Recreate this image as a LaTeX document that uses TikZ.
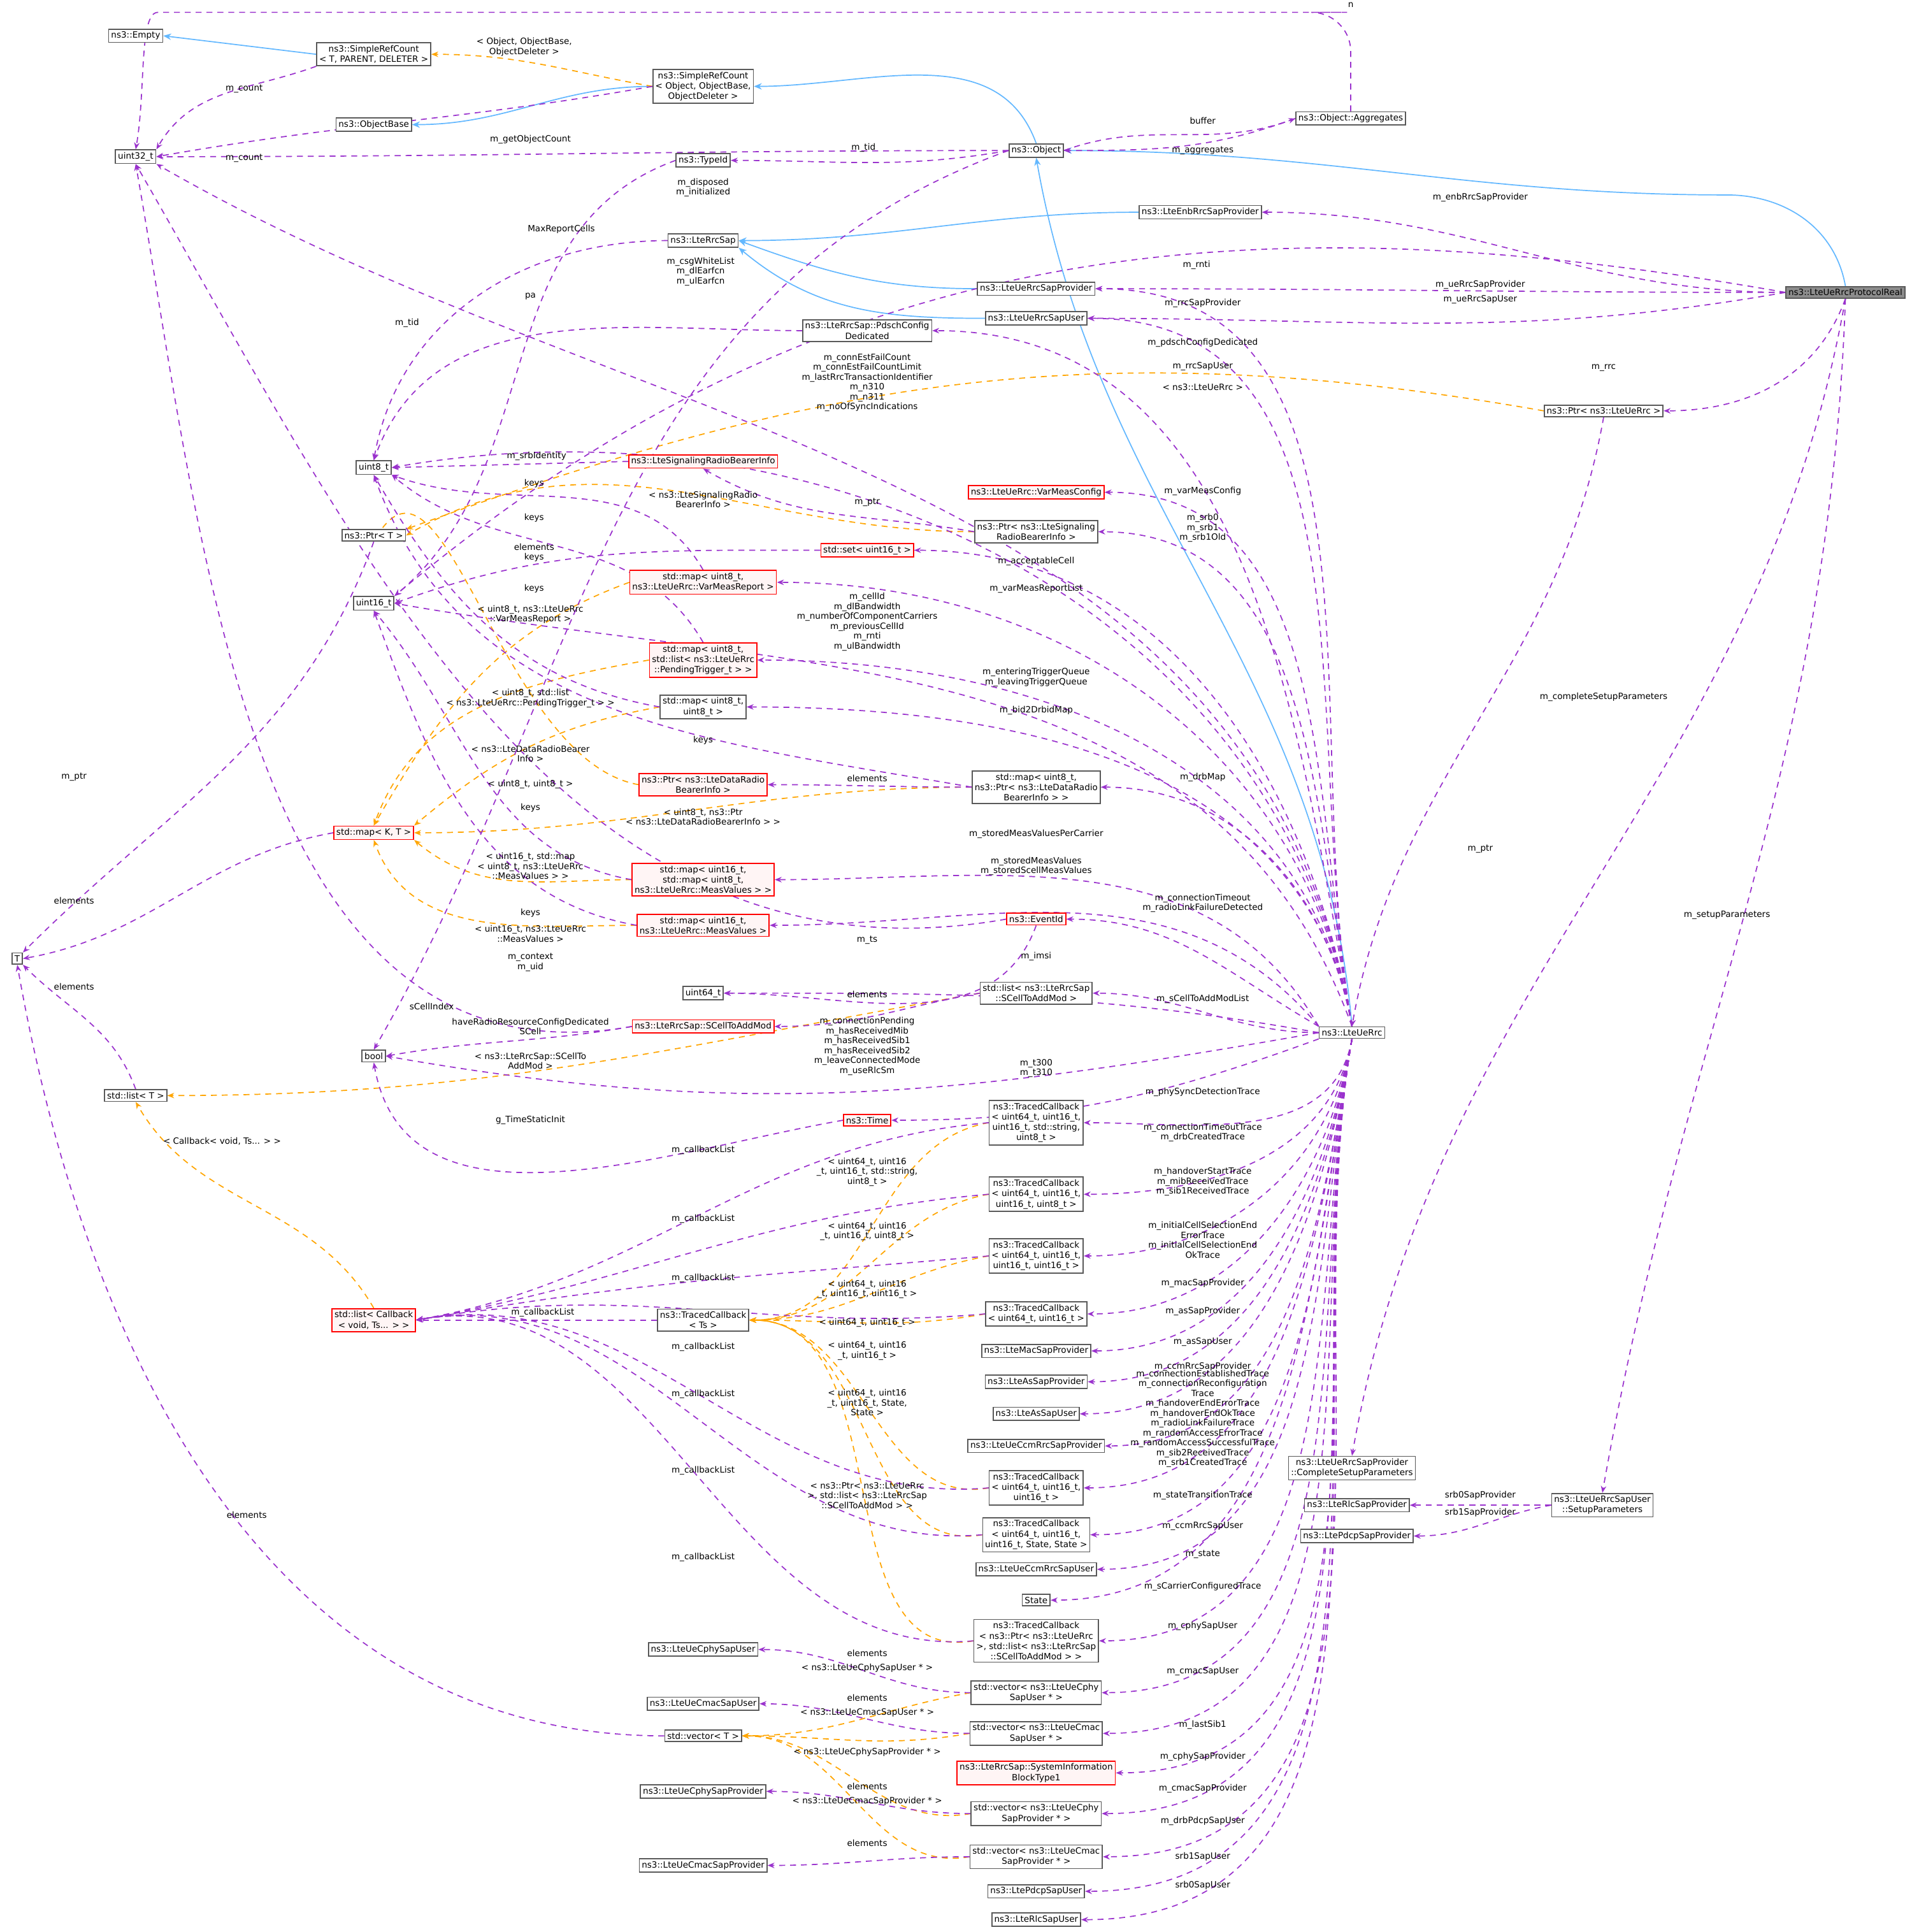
\documentclass[tikz,border=0pt]{standalone}
\usepackage{fontspec}
\setmainfont{DejaVu Sans}
\usetikzlibrary{arrows.meta}
\definecolor{pur}{HTML}{9A32CD}
\definecolor{org}{HTML}{FFA500}
\definecolor{blu}{HTML}{63B8FF}
\pgfdeclarelayer{bg}
\pgfsetlayers{bg,main}
\begin{document}
\begin{tikzpicture}[x=0.25pt,y=-0.25pt,line width=0.22pt,
 box/.style={solid,line width=0.22pt,draw=black!65,fill=white,inner sep=0.5pt,align=center,font=\fontsize{1.75}{2.1}\selectfont},
 rbox/.style={box,draw=red,fill=red!4},
 lab/.style={font=\fontsize{1.75}{2}\selectfont,align=center,inner sep=0},
 pe/.style={line width=0.22pt,draw=pur,dash pattern=on 1.2pt off 1pt,-{Stealth[length=1.4pt,width=1.1pt]}},
 oe/.style={line width=0.22pt,draw=org,dash pattern=on 1.2pt off 1pt,-{Stealth[length=1.4pt,width=1.1pt]}},
 be/.style={line width=0.22pt,draw=blu,solid,-{Stealth[length=1.6pt,width=1.3pt]}},
 up/.style={out=100,in=0},
 dn/.style={out=260,in=0},
]
\useasboundingbox (0,0) rectangle (1550,1566);
% nodes
\node[box] (empty) at (110,29) {ns3::Empty};
\node[box] (srct) at (303,44) {ns3::SimpleRefCount\\< T, PARENT, DELETER >};
\node[box] (u32) at (110,127) {uint32\_t};
\node[box] (objb) at (303,101) {ns3::ObjectBase};
\node[box] (srco) at (570,70) {ns3::SimpleRefCount\\< Object, ObjectBase,\\ObjectDeleter >};
\node[box] (tid) at (570,130) {ns3::TypeId};
\node[box] (obj) at (840,122) {ns3::Object};
\node[box] (agg) at (1095,96) {ns3::Object::Aggregates};
\node[box] (enbp) at (973,172) {ns3::LteEnbRrcSapProvider};
\node[box] (rsap) at (570,195) {ns3::LteRrcSap};
\node[box] (uep) at (840,234) {ns3::LteUeRrcSapProvider};
\node[box] (ueu) at (840,258) {ns3::LteUeRrcSapUser};
\node[box,fill=black!45] (pr) at (1496,237) {ns3::LteUeRrcProtocolReal};
\node[box] (pdsch) at (703,268) {ns3::LteRrcSap::PdschConfig\\Dedicated};
\node[box] (plr) at (1300,333) {ns3::Ptr< ns3::LteUeRrc >};
\node[box] (u8) at (303,379) {uint8\_t};
\node[rbox] (srb) at (570,374) {ns3::LteSignalingRadioBearerInfo};
\node[rbox] (vmc) at (840,399) {ns3::LteUeRrc::VarMeasConfig};
\node[box] (ptrt) at (303,434) {ns3::Ptr< T >};
\node[box] (psrb) at (840,431) {ns3::Ptr< ns3::LteSignaling\\RadioBearerInfo >};
\node[rbox] (set) at (703,446) {std::set< uint16\_t >};
\node[box] (u16) at (303,489) {uint16\_t};
\node[rbox] (mvmr) at (570,472) {std::map< uint8\_t,\\ns3::LteUeRrc::VarMeasReport >};
\node[rbox] (mpt) at (570,535) {std::map< uint8\_t,\\std::list< ns3::LteUeRrc\\::PendingTrigger\_t > >};
\node[box] (m88) at (570,573) {std::map< uint8\_t,\\uint8\_t >};
\node[rbox] (pdrb) at (570,636) {ns3::Ptr< ns3::LteDataRadio\\BearerInfo >};
\node[box] (mdrb) at (840,638) {std::map< uint8\_t,\\ns3::Ptr< ns3::LteDataRadio\\BearerInfo > >};
\node[rbox] (mkt) at (303,675) {std::map< K, T >};
\node[rbox] (m16m) at (570,713) {std::map< uint16\_t,\\std::map< uint8\_t,\\ns3::LteUeRrc::MeasValues > >};
\node[rbox] (m16v) at (570,750) {std::map< uint16\_t,\\ns3::LteUeRrc::MeasValues >};
\node[rbox] (evt) at (840,745) {ns3::EventId};
\node[box] (T) at (14,777) {T};
\node[box] (u64) at (570,805) {uint64\_t};
\node[box] (lsc) at (840,805) {std::list< ns3::LteRrcSap\\::SCellToAddMod >};
\node[rbox] (sc) at (570,832) {ns3::LteRrcSap::SCellToAddMod};
\node[box] (ur) at (1096,837) {ns3::LteUeRrc};
\node[box] (bool) at (303,856) {bool};
\node[box] (listt) at (110,888) {std::list< T >};
\node[rbox] (time) at (703,908) {ns3::Time};
\node[box] (tc1) at (840,910) {ns3::TracedCallback\\< uint64\_t, uint16\_t,\\uint16\_t, std::string,\\uint8\_t >};
\node[box] (tc2) at (840,968) {ns3::TracedCallback\\< uint64\_t, uint16\_t,\\uint16\_t, uint8\_t >};
\node[box] (tc3) at (840,1018) {ns3::TracedCallback\\< uint64\_t, uint16\_t,\\uint16\_t, uint16\_t >};
\node[box] (tc4) at (840,1065) {ns3::TracedCallback\\< uint64\_t, uint16\_t >};
\node[rbox] (lcb) at (303,1070) {std::list< Callback\\< void, Ts... > >};
\node[box] (tcts) at (570,1070) {ns3::TracedCallback\\< Ts >};
\node[box] (macp) at (840,1095) {ns3::LteMacSapProvider};
\node[box] (asp) at (840,1120) {ns3::LteAsSapProvider};
\node[box] (asu) at (840,1146) {ns3::LteAsSapUser};
\node[box] (ccmp) at (840,1172) {ns3::LteUeCcmRrcSapProvider};
\node[box] (tc5) at (840,1206) {ns3::TracedCallback\\< uint64\_t, uint16\_t,\\uint16\_t >};
\node[box] (tc6) at (840,1244) {ns3::TracedCallback\\< uint64\_t, uint16\_t,\\uint16\_t, State, State >};
\node[box] (csp) at (1096,1190) {ns3::LteUeRrcSapProvider\\::CompleteSetupParameters};
\node[box] (rlcp) at (1100,1220) {ns3::LteRlcSapProvider};
\node[box] (pdcpp) at (1100,1245) {ns3::LtePdcpSapProvider};
\node[box] (sp) at (1299,1220) {ns3::LteUeRrcSapUser\\::SetupParameters};
\node[box] (ccmu) at (840,1272) {ns3::LteUeCcmRrcSapUser};
\node[box] (state) at (840,1297) {State};
\node[box] (tc7) at (840,1330) {ns3::TracedCallback\\< ns3::Ptr< ns3::LteUeRrc\\>, std::list< ns3::LteRrcSap\\::SCellToAddMod > >};
\node[box] (cphyu) at (570,1337) {ns3::LteUeCphySapUser};
\node[box] (vcu) at (840,1372) {std::vector< ns3::LteUeCphy\\SapUser * >};
\node[box] (cmacu) at (570,1381) {ns3::LteUeCmacSapUser};
\node[box] (vmu) at (840,1405) {std::vector< ns3::LteUeCmac\\SapUser * >};
\node[box] (vect) at (570,1407) {std::vector< T >};
\node[rbox] (sib) at (840,1437) {ns3::LteRrcSap::SystemInformation\\BlockType1};
\node[box] (cphyp) at (570,1452) {ns3::LteUeCphySapProvider};
\node[box] (vcp) at (840,1470) {std::vector< ns3::LteUeCphy\\SapProvider * >};
\node[box] (vmp) at (840,1505) {std::vector< ns3::LteUeCmac\\SapProvider * >};
\node[box] (cmacp) at (570,1512) {ns3::LteUeCmacSapProvider};
\node[box] (pdcpu) at (840,1533) {ns3::LtePdcpSapUser};
\node[box] (rlcu) at (840,1556) {ns3::LteRlcSapUser};
\coordinate (nA) at (1060,10);
\coordinate (nB) at (160,10);

\begin{pgfonlayer}{bg}
\fill[white] (0,0) rectangle (1550,1566);
% inheritance
\draw[be] (srct.west) -- (empty.east);
\draw[be] (srco.west) to[out=180,in=0] (objb.east);
\draw[be] (obj.north) to[out=110,in=0] (srco.east);
\draw[be] (pr.north) to[out=100,in=0] (1400,158) to[out=180,in=0] (obj.east);
\draw[be] (ur.north) to[out=95,in=-80] (obj.south);
\draw[be] (enbp.west) to[out=180,in=0] (rsap.east);
\draw[be] (uep.west) to[out=180,in=-20] (rsap.east);
\draw[be] (ueu.west) to[out=180,in=-40] (rsap.south east);

% template instances
\draw[oe] (srco.west) to[out=170,in=0] (srct.east);
\draw[oe] (plr.west) to[out=170,in=20] (ptrt.north east);
\draw[oe] (psrb.west) to[out=180,in=30] (ptrt.east);
\draw[oe] (pdrb.west) to[out=170,in=60] (ptrt.south);
\draw[oe] (mvmr.west) to[out=200,in=60] (mkt.north);
\draw[oe] (mpt.west) to[out=190,in=70] (mkt.north);
\draw[oe] (m88.west) to[out=190,in=40] (mkt.north east);
\draw[oe] (mdrb.west) to[out=180,in=0] (mkt.east);
\draw[oe] (m16m.west) to[out=180,in=-40] (mkt.south east);
\draw[oe] (m16v.west) to[out=180,in=-70] (mkt.south);
\draw[oe] (lsc.west) to[out=190,in=0] (listt.east);
\draw[oe] (lcb.north) to[out=120,in=-60] (listt.south);
\foreach \t in {tc1,tc2,tc3,tc4,tc5,tc6,tc7} \draw[oe] (\t.west) to[out=190,in=0] (tcts.east);
\foreach \t in {vcu,vmu,vcp,vmp} \draw[oe] (\t.west) to[out=190,in=0] (vect.east);

% members (not LteUeRrc)
\draw[pe] (srct.south west) to[out=200,in=60] (u32.north east);
\draw[pe] (srco.west) to[out=190,in=10] (u32.east);
\draw[pe] (obj.west) to[out=180,in=0] (u32.east);
\draw[pe,rounded corners=8pt] (agg.north) |- (nA) -- (nB) to[out=180,in=80] (u32.north);
\draw[pe] (obj.west) to[out=190,in=0] (tid.east);
\draw[pe] (obj.west) to[out=200,in=60] (bool.north);
\draw[pe] (obj.east) to[out=20,in=200] (agg.west);
\draw[pe] (agg.west) to[out=200,in=0] (obj.east);
\draw[pe] (pr.west) to[out=180,in=0] (enbp.east);
\draw[pe] (pr.west) to[out=170,in=40] (u16.north east);
\draw[pe] (pr.west) to[out=180,in=0] (uep.east);
\draw[pe] (pr.west) to[out=190,in=0] (ueu.east);
\draw[pe] (pr.south) to[out=250,in=0] (plr.east);
\draw[pe] (pr.south) to[out=260,in=80] (csp.north);
\draw[pe] (pr.south) to[out=268,in=80] (sp.north);
\draw[pe] (plr.south) to[out=260,in=80] (ur.north);
\draw[pe] (rsap.west) to[out=180,in=80] (u8.north);
\draw[pe] (pdsch.west) to[out=180,in=70] (u8.north);
\draw[pe] (tid.west) to[out=200,in=40] (u16.north east);
\draw[pe] (srb.west) -- (u8.east);
\draw[pe] (psrb.west) to[out=170,in=-30] (srb.south);
\draw[pe] (set.west) to[out=180,in=20] (u16.east);
\draw[pe] (mvmr.north) to[out=120,in=-20] (u8.south east);
\draw[pe] (mpt.north) to[out=120,in=-40] (u8.south east);
\draw[pe] (m88.west) to[out=170,in=-60] (u8.south);
\draw[pe] (mdrb.west) to[out=180,in=0] (pdrb.east);
\draw[pe] (mdrb.west) to[out=170,in=-70] (u8.south);
\draw[pe] (m16m.west) to[out=170,in=-50] (u16.south);
\draw[pe] (m16v.west) to[out=170,in=-70] (u16.south);
\draw[pe] (ptrt.south) to[out=250,in=45] (T.north east);
\draw[pe] (mkt.west) to[out=190,in=10] (T.east);
\draw[pe] (listt.north) to[out=110,in=-45] (T.south east);
\draw[pe] (vect.west) to[out=180,in=-80] (T.south);
\draw[pe] (evt.west) to[out=190,in=-60] (u32.south);
\draw[pe] (evt.south) to[out=250,in=0] (u64.east);
\draw[pe] (sc.west) to[out=190,in=-80] (u32.south);
\draw[pe] (sc.west) to[out=190,in=10] (bool.east);
\draw[pe] (lsc.west) to[out=190,in=0] (sc.east);
\draw[pe] (time.west) to[out=190,in=-80] (bool.south);
\foreach \t in {tc1,tc2,tc3,tc4,tc5,tc6,tc7} \draw[pe] (\t.west) to[out=185,in=10] (lcb.east);
\draw[pe] (tcts.west) -- (lcb.east);
\draw[pe] (vcu.west) to[out=180,in=0] (cphyu.east);
\draw[pe] (vmu.west) to[out=180,in=0] (cmacu.east);
\draw[pe] (vcp.west) to[out=180,in=0] (cphyp.east);
\draw[pe] (vmp.west) to[out=180,in=0] (cmacp.east);
\draw[pe] (sp.west) to[out=180,in=0] (rlcp.east);
\draw[pe] (sp.west) to[out=190,in=0] (pdcpp.east);

% LteUeRrc members
\draw[pe] (ur.north) to[out=100,in=-30] (u32.south east);
\draw[pe] (ur.north) to[up] (uep.east);
\draw[pe] (ur.north) to[up] (ueu.east);
\draw[pe] (ur.north) to[up] (pdsch.east);
\draw[pe] (ur.north) to[out=100,in=10] (u8.east);
\draw[pe] (ur.north) to[up] (vmc.east);
\draw[pe] (ur.north) to[up] (psrb.east);
\draw[pe] (ur.north) to[up] (set.east);
\draw[pe] (ur.north) to[up] (mvmr.east);
\draw[pe] (ur.north) to[out=110,in=-10] (u16.east);
\draw[pe] (ur.north) to[up] (mpt.east);
\draw[pe] (ur.north) to[up] (m88.east);
\draw[pe] (ur.north) to[up] (mdrb.east);
\draw[pe] (ur.north west) to[out=120,in=0] (m16m.east);
\draw[pe] (ur.north west) to[out=130,in=0] (m16v.east);
\draw[pe] (ur.north west) to[out=150,in=0] (evt.east);
\draw[pe] (ur.west) to[out=170,in=0] (u64.east);
\draw[pe] (ur.west) to[out=180,in=0] (lsc.east);
\draw[pe] (ur.west) to[out=190,in=-10] (bool.east);
\draw[pe] (ur.south west) to[out=200,in=0] (time.east);
\foreach \t in {tc1,tc2,tc3,tc4,macp,asp,asu,ccmp,tc5,tc6,ccmu,state,tc7,vcu,vmu,sib,vcp,vmp,pdcpu,rlcu}
  \draw[pe] (ur.south) to[dn] (\t.east);
\end{pgfonlayer}

% labels
\node[lab] at (1095,4) {n};
\node[lab] at (198,72) {m\_count};
\node[lab] at (198,128) {m\_count};
\node[lab] at (425,38) {< Object, ObjectBase,\\ObjectDeleter >};
\node[lab] at (975,98) {buffer};
\node[lab] at (975,122) {m\_aggregates};
\node[lab] at (430,113) {m\_getObjectCount};
\node[lab] at (700,120) {m\_tid};
\node[lab] at (570,152) {m\_disposed\\m\_initialized};
\node[lab] at (1200,160) {m\_enbRrcSapProvider};
\node[lab] at (455,186) {MaxReportCells};
\node[lab] at (970,215) {m\_rnti};
\node[lab] at (568,220) {m\_csgWhiteList\\m\_dlEarfcn\\m\_ulEarfcn};
\node[lab] at (1200,231) {m\_ueRrcSapProvider};
\node[lab] at (1200,243) {m\_ueRrcSapUser};
\node[lab] at (430,240) {pa};
\node[lab] at (975,246) {m\_rrcSapProvider};
\node[lab] at (330,262) {m\_tid};
\node[lab] at (1300,298) {m\_rrc};
\node[lab] at (975,278) {m\_pdschConfigDedicated};
\node[lab] at (975,297) {m\_rrcSapUser};
\node[lab] at (703,310) {m\_connEstFailCount\\m\_connEstFailCountLimit\\m\_lastRrcTransactionIdentifier\\m\_n310\\m\_n311\\m\_noOfSyncIndications};
\node[lab] at (975,314) {< ns3::LteUeRrc >};
\node[lab] at (435,370) {m\_srbIdentity};
\node[lab] at (570,405) {< ns3::LteSignalingRadio\\BearerInfo >};
\node[lab] at (703,407) {m\_ptr};
\node[lab] at (975,398) {m\_varMeasConfig};
\node[lab] at (433,392) {keys};
\node[lab] at (433,420) {keys};
\node[lab] at (433,448) {elements\\keys};
\node[lab] at (433,477) {keys};
\node[lab] at (975,428) {m\_srb0\\m\_srb1\\m\_srb1Old};
\node[lab] at (840,455) {m\_acceptableCell};
\node[lab] at (840,477) {m\_varMeasReportList};
\node[lab] at (430,498) {< uint8\_t, ns3::LteUeRrc\\::VarMeasReport >};
\node[lab] at (703,504) {m\_cellId\\m\_dlBandwidth\\m\_numberOfComponentCarriers\\m\_previousCellId\\m\_rnti\\m\_ulBandwidth};
\node[lab] at (840,549) {m\_enteringTriggerQueue\\m\_leavingTriggerQueue};
\node[lab] at (430,566) {< uint8\_t, std::list\\< ns3::LteUeRrc::PendingTrigger\_t > >};
\node[lab] at (840,576) {m\_bid2DrbidMap};
\node[lab] at (570,600) {keys};
\node[lab] at (430,611) {< ns3::LteDataRadioBearer\\Info >};
\node[lab] at (430,636) {< uint8\_t, uint8\_t >};
\node[lab] at (703,631) {elements};
\node[lab] at (975,630) {m\_drbMap};
\node[lab] at (430,655) {keys};
\node[lab] at (60,630) {m\_ptr};
\node[lab] at (570,662) {< uint8\_t, ns3::Ptr\\< ns3::LteDataRadioBearerInfo > >};
\node[lab] at (840,676) {m\_storedMeasValuesPerCarrier};
\node[lab] at (430,702) {< uint16\_t, std::map\\< uint8\_t, ns3::LteUeRrc\\::MeasValues > >};
\node[lab] at (840,702) {m\_storedMeasValues\\m\_storedScellMeasValues};
\node[lab] at (430,740) {keys};
\node[lab] at (60,730) {elements};
\node[lab] at (975,732) {m\_connectionTimeout\\m\_radioLinkFailureDetected};
\node[lab] at (430,757) {< uint16\_t, ns3::LteUeRrc\\::MeasValues >};
\node[lab] at (703,762) {m\_ts};
\node[lab] at (430,780) {m\_context\\m\_uid};
\node[lab] at (840,775) {m\_imsi};
\node[lab] at (60,800) {elements};
\node[lab] at (703,806) {elements};
\node[lab] at (350,816) {sCellIndex};
\node[lab] at (975,810) {m\_sCellToAddModList};
\node[lab] at (430,832) {haveRadioResourceConfigDedicated\\SCell};
\node[lab] at (703,848) {m\_connectionPending\\m\_hasReceivedMib\\m\_hasReceivedSib1\\m\_hasReceivedSib2\\m\_leaveConnectedMode\\m\_useRlcSm};
\node[lab] at (430,860) {< ns3::LteRrcSap::SCellTo\\AddMod >};
\node[lab] at (840,866) {m\_t300\\m\_t310};
\node[lab] at (975,885) {m\_phySyncDetectionTrace};
\node[lab] at (430,908) {g\_TimeStaticInit};
\node[lab] at (570,932) {m\_callbackList};
\node[lab] at (180,925) {< Callback< void, Ts... > >};
\node[lab] at (703,950) {< uint64\_t, uint16\\\_t, uint16\_t, std::string,\\uint8\_t >};
\node[lab] at (975,918) {m\_connectionTimeoutTrace\\m\_drbCreatedTrace};
\node[lab] at (570,988) {m\_callbackList};
\node[lab] at (975,958) {m\_handoverStartTrace\\m\_mibReceivedTrace\\m\_sib1ReceivedTrace};
\node[lab] at (703,998) {< uint64\_t, uint16\\\_t, uint16\_t, uint8\_t >};
\node[lab] at (975,1005) {m\_initialCellSelectionEnd\\ErrorTrace\\m\_initialCellSelectionEnd\\OkTrace};
\node[lab] at (570,1036) {m\_callbackList};
\node[lab] at (703,1045) {< uint64\_t, uint16\\\_t, uint16\_t, uint16\_t >};
\node[lab] at (440,1064) {m\_callbackList};
\node[lab] at (975,1040) {m\_macSapProvider};
\node[lab] at (703,1072) {< uint64\_t, uint16\_t >};
\node[lab] at (975,1063) {m\_asSapProvider};
\node[lab] at (570,1092) {m\_callbackList};
\node[lab] at (703,1095) {< uint64\_t, uint16\\\_t, uint16\_t >};
\node[lab] at (975,1088) {m\_asSapUser};
\node[lab] at (975,1108) {m\_ccmRrcSapProvider};
\node[lab] at (570,1130) {m\_callbackList};
\node[lab] at (703,1137) {< uint64\_t, uint16\\\_t, uint16\_t, State,\\State >};
\node[lab] at (975,1150) {m\_connectionEstablishedTrace\\m\_connectionReconfiguration\\Trace\\m\_handoverEndErrorTrace\\m\_handoverEndOkTrace\\m\_radioLinkFailureTrace\\m\_randomAccessErrorTrace\\m\_randomAccessSuccessfulTrace\\m\_sib2ReceivedTrace\\m\_srb1CreatedTrace};
\node[lab] at (570,1192) {m\_callbackList};
\node[lab] at (703,1212) {< ns3::Ptr< ns3::LteUeRrc\\>, std::list< ns3::LteRrcSap\\::SCellToAddMod > >};
\node[lab] at (975,1212) {m\_stateTransitionTrace};
\node[lab] at (1200,1212) {srb0SapProvider};
\node[lab] at (1200,1226) {srb1SapProvider};
\node[lab] at (975,1237) {m\_ccmRrcSapUser};
\node[lab] at (975,1260) {m\_state};
\node[lab] at (570,1262) {m\_callbackList};
\node[lab] at (975,1286) {m\_sCarrierConfiguredTrace};
\node[lab] at (200,1228) {elements};
\node[lab] at (1400,742) {m\_setupParameters};
\node[lab] at (1300,565) {m\_completeSetupParameters};
\node[lab] at (1200,688) {m\_ptr};
\node[lab] at (703,1340) {elements};
\node[lab] at (703,1352) {< ns3::LteUeCphySapUser * >};
\node[lab] at (975,1318) {m\_cphySapUser};
\node[lab] at (703,1376) {elements};
\node[lab] at (703,1388) {< ns3::LteUeCmacSapUser * >};
\node[lab] at (975,1355) {m\_cmacSapUser};
\node[lab] at (703,1420) {< ns3::LteUeCphySapProvider * >};
\node[lab] at (975,1398) {m\_lastSib1};
\node[lab] at (703,1448) {elements};
\node[lab] at (975,1424) {m\_cphySapProvider};
\node[lab] at (703,1460) {< ns3::LteUeCmacSapProvider * >};
\node[lab] at (975,1450) {m\_cmacSapProvider};
\node[lab] at (703,1494) {elements};
\node[lab] at (975,1476) {m\_drbPdcpSapUser};
\node[lab] at (975,1505) {srb1SapUser};
\node[lab] at (975,1528) {srb0SapUser};
\end{tikzpicture}
\end{document}
